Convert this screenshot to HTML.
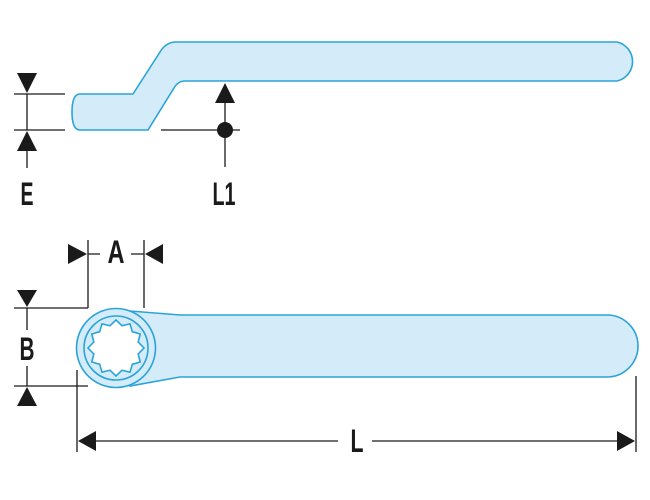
<!DOCTYPE html>
<html><head><style>
body{margin:0;background:#fff;width:650px;height:495px;overflow:hidden}
text{font-family:"Liberation Sans",sans-serif;font-size:32px;font-weight:bold;fill:#1a1a1a;text-anchor:middle}
</style></head><body>
<svg width="650" height="495" viewBox="0 0 650 495" xmlns="http://www.w3.org/2000/svg">
<g fill="#d4ecfa" stroke="#2aa3d8" stroke-width="1.6">
<path d="M80,94 L133,94 L160,52 Q166,42 176,42 L617,42 A20,20 0 0 1 617,81 L185,81 Q178,81 174,88 L148,130 L80,130 Q72,130 72,112 Q72,94 80,94 Z"/>
<path d="M130,311 L180,315 L607,315 A31,31 0 0 1 607,377 L180,377 L130,386 Z"/>
<circle cx="116" cy="348" r="39.5"/>
<circle cx="116" cy="348" r="32" fill="none"/>
<polygon fill="#fff" points="144,348 138.2,354 140.2,362 132.3,364.3 130,372.2 122,370.2 116,376 110,370.2 102,372.2 99.7,364.3 91.8,362 93.8,354 88,348 93.8,342 91.8,334 99.7,331.7 102,323.8 110,325.8 116,320 122,325.8 130,323.8 132.3,331.7 140.2,334 138.2,342"/>
</g>
<g stroke="#1a1a1a" stroke-width="1.3" fill="none">
<path d="M14,94H65M14,130H65M27,94V130M27,151V168"/>
<path d="M161,130H240M225,103V167"/>
<path d="M88,240V308M144,240V308M88,254H100M131,254H144"/>
<path d="M14,308H88M14,386H88M27,308V330M27,366V386"/>
<path d="M77,370V452M636,376V452M96,441H338M372,441H618"/>
</g>
<g fill="#1a1a1a">
<polygon points="17,73 37,73 27,93"/>
<polygon points="17,151 37,151 27,131"/>
<polygon points="215,103 235,103 225,83"/>
<circle cx="225" cy="130" r="8"/>
<polygon points="68,244 68,264 87,254"/>
<polygon points="163,244 163,264 145,254"/>
<polygon points="17,290 37,290 27,307"/>
<polygon points="17,406 37,406 27,387"/>
<polygon points="78,441 96,431 96,451"/>
<polygon points="635,441 617,431 617,451"/>
</g>
<text x="27" y="205" textLength="13" lengthAdjust="spacingAndGlyphs">E</text>
<text x="224" y="205" textLength="23" lengthAdjust="spacingAndGlyphs">L1</text>
<text x="116" y="263" textLength="17" lengthAdjust="spacingAndGlyphs">A</text>
<text x="27" y="360" textLength="15" lengthAdjust="spacingAndGlyphs">B</text>
<text x="357" y="452" textLength="13" lengthAdjust="spacingAndGlyphs">L</text>
</svg>
</body></html>
